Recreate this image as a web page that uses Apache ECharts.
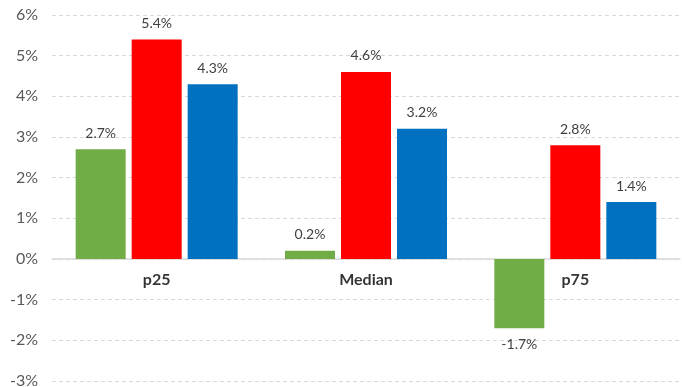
<!DOCTYPE html>
<html>
<head>
<meta charset="utf-8">
<script src="https://cdn.jsdelivr.net/npm/echarts@6/dist/echarts.min.js"></script>
<style>
  html, body { margin: 0; padding: 0; background: #fff; }
  #chart { width: 682px; height: 387px; }
</style>
</head>
<body>
<div id="chart"></div>
<script>
const categories = ['p25', 'Median', 'p75'];
const greenValues = [2.7, 0.2, -1.7];
const redValues = [5.4, 4.6, 2.8];
const blueValues = [4.3, 3.2, 1.4];
const yMin = -3, yMax = 6, yStep = 1;

const FONT = 'Lato, "Open Sans", sans-serif';

function items(values) {
  return values.map(v => ({
    value: v,
    label: { position: v < 0 ? 'bottom' : 'top' }
  }));
}

function barSeries(name, values, color) {
  return {
    name: name,
    type: 'bar',
    data: items(values),
    barWidth: 50,
    barGap: '12%',
    itemStyle: { color: color },
    label: {
      show: true,
      distance: 9,
      fontFamily: FONT,
      fontSize: 14,
      color: '#404040',
      formatter: p => p.value.toFixed(1) + '%'
    }
  };
}

// Category names sit just under the zero line, so they are drawn as labels
// of invisible points placed at value 0 on each category.
const categoryLabels = {
  name: 'categoryNames',
  type: 'scatter',
  symbolSize: 0,
  silent: true,
  data: categories.map(c => [c, 0]),
  label: {
    show: true,
    position: 'bottom',
    distance: 13,
    fontFamily: FONT,
    fontSize: 16,
    fontWeight: 'bold',
    color: '#000',
    formatter: p => p.value[0]
  },
  z: 5
};

const chart = echarts.init(document.getElementById('chart'), null, { renderer: 'canvas' });
chart.setOption({
  animation: false,
  grid: { left: 52, right: 2, top: 15, bottom: 6, containLabel: false, outerBoundsMode: 'none' },
  xAxis: {
    type: 'category',
    data: categories,
    axisLine: { onZero: true, lineStyle: { color: '#d9d9d9', width: 1.5 } },
    axisTick: { show: false },
    axisLabel: { show: false }
  },
  yAxis: {
    type: 'value',
    min: yMin,
    max: yMax,
    interval: yStep,
    axisLine: { show: false },
    axisTick: { show: false },
    splitLine: { lineStyle: { color: '#d9d9d9', type: [4, 3] } },
    axisLabel: {
      margin: 14,
      fontFamily: FONT,
      fontSize: 16,
      color: '#595959',
      formatter: v => v + '%'
    }
  },
  series: [
    barSeries('green', greenValues, '#70ad47'),
    barSeries('red', redValues, '#ff0000'),
    barSeries('blue', blueValues, '#0070c0'),
    categoryLabels
  ]
});
</script>
</body>
</html>
